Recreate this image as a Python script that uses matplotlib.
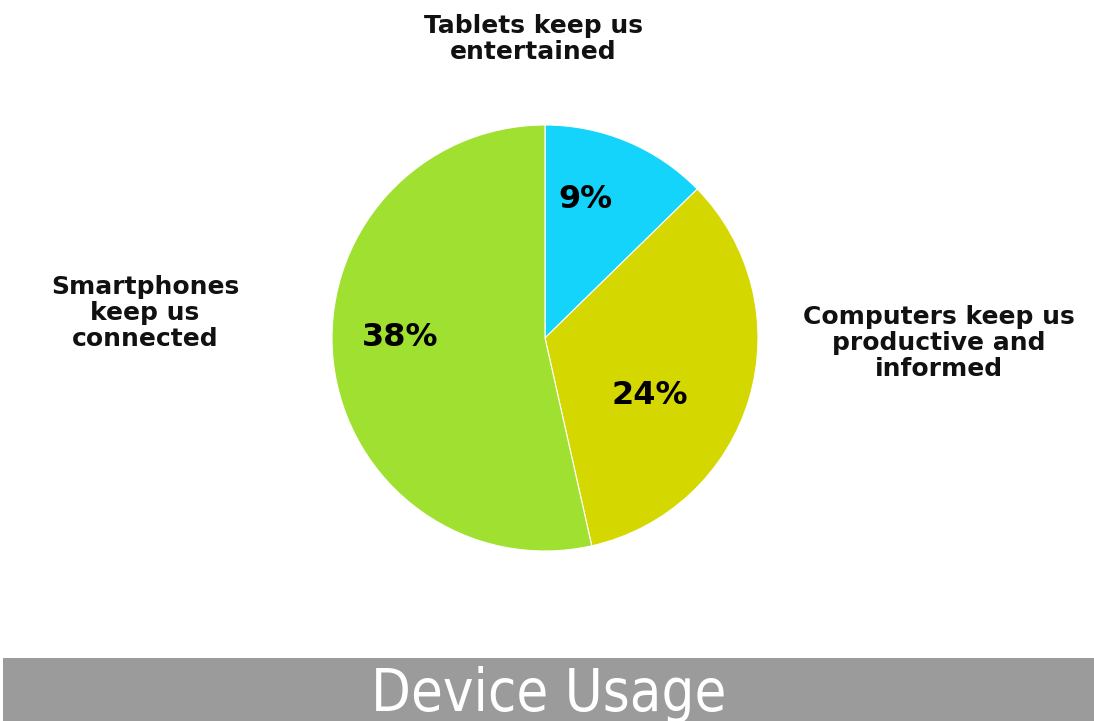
import matplotlib
matplotlib.use("Agg")
import matplotlib.pyplot as plt

categories = ["Tablets keep us\nentertained", "Computers keep us\nproductive and\ninformed", "Smartphones\nkeep us\nconnected"]
values = [9, 24, 38]
colors = ["#14d4fb", "#d4d700", "#a0e030"]
title = "Device Usage"

W, H = 1094, 721
fig = plt.figure(figsize=(W / 100, H / 100), dpi=100)
fig.patch.set_facecolor("white")

cx, cy, r = 545, 338, 213
ax = fig.add_axes([(cx - r) / W, (H - cy - r) / H, 2 * r / W, 2 * r / H])
ax.pie(values, colors=colors, startangle=90, counterclock=False, radius=1,
       wedgeprops=dict(edgecolor="white", linewidth=0.8))
ax.set_xlim(-1, 1)
ax.set_ylim(-1, 1)
ax.set_aspect("equal")
ax.axis("off")

font = "DejaVu Sans"
pct_pos = [(0.19, 0.65), (0.49, -0.27), (-0.68, 0.0)]
for v, (px, py) in zip(values, pct_pos):
    ax.text(px, py, f"{v}%", ha="center", va="center", fontsize=23,
            fontweight="bold", family=font, color="black")

label_pos = [(533, 39), (939, 343), (145, 313)]
for lab, (lx, ly) in zip(categories, label_pos):
    fig.text(lx / W, 1 - ly / H, lab, ha="center", va="center", fontsize=18,
             fontweight="bold", family=font, linespacing=1.12, color="#111111")

# bottom banner
bar = fig.add_axes([3 / W, 0, 1 - 3 / W, 63 / H])
bar.set_facecolor("#9b9b9b")
bar.set_xticks([]); bar.set_yticks([])
for s in bar.spines.values():
    s.set_visible(False)
bar.text(0.5, 0.42, title, ha="center", va="center", fontsize=41.5,
         color="white", family=["Liberation Sans Narrow", "DejaVu Sans"],
         fontstretch="condensed", transform=bar.transAxes)

fig.savefig("out.png", dpi=100)
